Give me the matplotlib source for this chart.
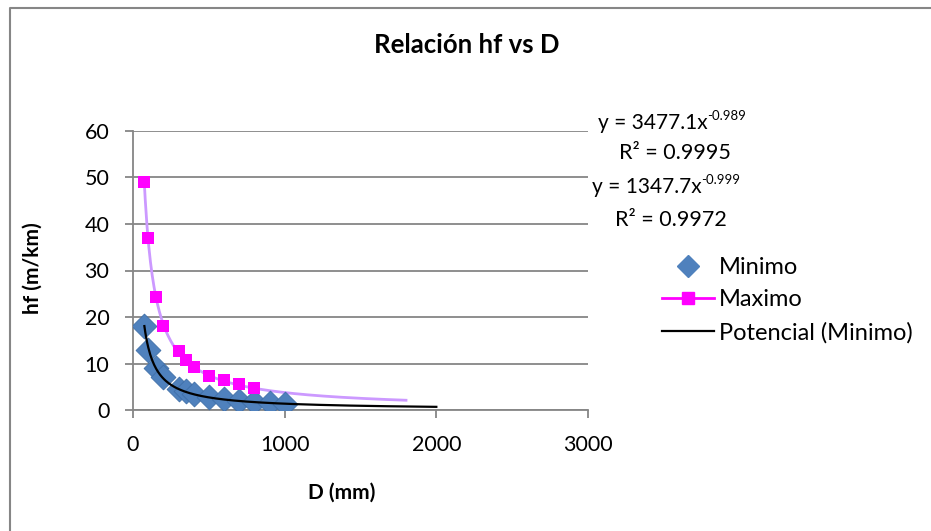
import numpy as np
import matplotlib.pyplot as plt
from matplotlib.lines import Line2D

# Datos
D = [75, 100, 150, 200, 300, 350, 400, 500, 600, 700, 800, 900, 1000]
hf_min = [18.0, 13.0, 9.0, 7.0, 4.6, 4.0, 3.4, 2.8, 2.3, 1.9, 1.7, 1.5, 1.35]
D_max = [75, 100, 150, 200, 300, 350, 400, 500, 600, 700, 800]
hf_max = [49.0, 37.0, 24.2, 18.1, 12.7, 10.7, 9.2, 7.4, 6.4, 5.5, 4.7]

# Líneas de tendencia potencial (coeficientes de Excel) y su rango
coef_max, exp_max, r2_max, rango_max = 3477.1, -0.989, 0.9995, (75, 1800)
coef_min, exp_min, r2_min, rango_min = 1347.7, -0.999, 0.9972, (75, 2000)

plt.rcParams['font.family'] = ['Lato', 'DejaVu Sans']
gris = '#868686'

fig = plt.figure(figsize=(9.31, 5.31), dpi=100)
W, H = 931, 531
# borde del área del gráfico (solo izquierda y arriba visibles)
fig.add_artist(Line2D([10 / W, 10 / W, 1.0], [0.0, 1 - 8 / H, 1 - 8 / H],
                      transform=fig.transFigure, color=gris, lw=1.5))

ax = fig.add_axes([133 / W, 1 - 410 / H, (588 - 133) / W, (410 - 131) / H])

x_t = np.linspace(*rango_max, 300)
ax.plot(x_t, coef_max * x_t ** exp_max, color='#CC99FF', lw=2, zorder=2)
ax.scatter(D, hf_min, marker='D', s=160, color='#4F81BD', edgecolor='#3F6FA8', lw=0.6, zorder=3)
ax.scatter(D_max, hf_max, marker='s', s=80, color='#FF00FF', lw=0, zorder=3)
x_t2 = np.linspace(*rango_min, 300)
ax.plot(x_t2, coef_min * x_t2 ** exp_min, color='black', lw=1.6, zorder=4)

ax.set_xlim(0, 3000)
ax.set_ylim(0, 60)
ax.set_xticks([0, 1000, 2000, 3000])
ax.set_yticks(range(0, 61, 10))
ax.grid(axis='y', color=gris, lw=1.3)
ax.set_axisbelow(True)
for s in ['top', 'right']:
    ax.spines[s].set_visible(False)
for s in ['left', 'bottom']:
    ax.spines[s].set_color(gris)
    ax.spines[s].set_linewidth(1.3)
ax.tick_params(colors=gris, labelcolor='black', labelsize=15.5, length=6, width=1.3)
ax.tick_params(axis='x', pad=12)
ax.tick_params(axis='y', pad=11)
ax.set_xlabel('D (mm)', fontsize=15, fontweight='bold')
ax.set_ylabel('hf (m/km)', fontsize=15, fontweight='bold')
ax.xaxis.set_label_coords((342 - 133) / (588 - 133), -(493 - 410) / (410 - 131))
ax.yaxis.set_label_coords(-(133 - 33) / (588 - 133), (410 - 268) / (410 - 131))
ax.xaxis.label.set_va('center')
ax.yaxis.label.set_va('center')

fig.text(467 / W, 1 - 45 / H, 'Relación hf vs D', ha='center', va='center',
         fontsize=18.5, fontweight='bold')


def ecuacion(x, y, coef, exp):
    t = fig.text(x / W, 1 - y / H, f'y = {coef}x', ha='left', va='center', fontsize=15)
    ax.annotate(f'{exp}', xy=(1, 1), xycoords=t, xytext=(0, 2), textcoords='offset points',
                ha='left', va='top', fontsize=9.5)


ecuacion(598, 123, coef_max, exp_max)
fig.text(619 / W, 1 - 153 / H, f'R² = {r2_max}', ha='left', va='center', fontsize=15.5)
ecuacion(592, 187, coef_min, exp_min)
fig.text(615 / W, 1 - 220 / H, f'R² = {r2_min}', ha='left', va='center', fontsize=15.5)

handles = [
    Line2D([], [], marker='D', color='#4F81BD', ls='none', markersize=11),
    Line2D([], [], marker='s', color='#FF00FF', lw=2, markersize=9),
    Line2D([], [], color='black', lw=1.6),
]
fig.legend(handles, ['Minimo', 'Maximo', 'Potencial (Minimo)'],
           loc='upper left', bbox_to_anchor=(662 / W, 1 - 257 / H), frameon=False,
           fontsize=17, handlelength=2.2, handletextpad=0.2, labelspacing=0.48, borderaxespad=0,
           borderpad=0)

fig.savefig('out.png', dpi=100)
